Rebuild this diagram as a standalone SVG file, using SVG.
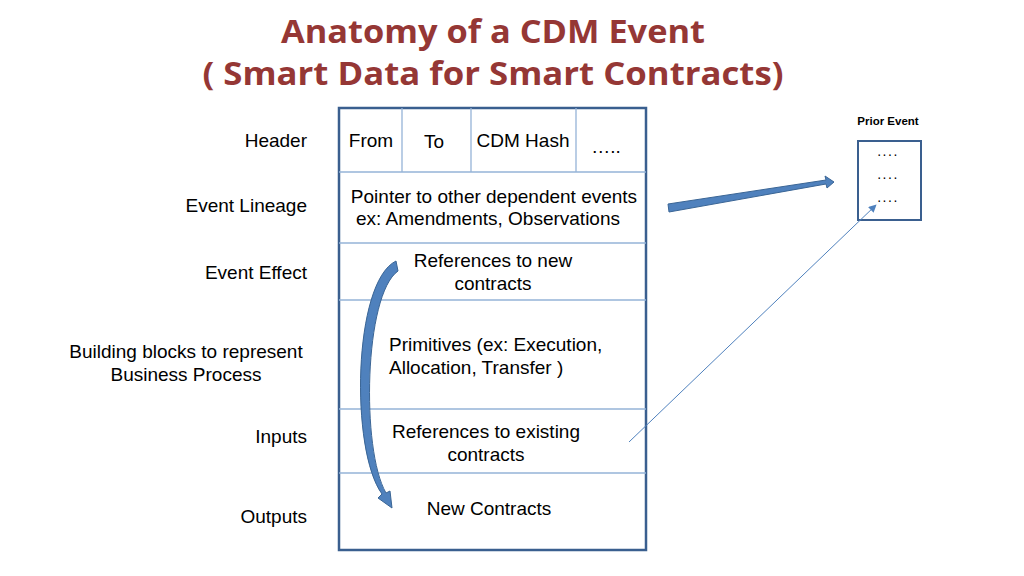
<svg xmlns="http://www.w3.org/2000/svg" width="1024" height="576" viewBox="0 0 1024 576">
<defs>
<style>
.t{font-family:"Liberation Sans",Arial,sans-serif;font-size:19px;fill:#000}
.title{font-family:"Open Sans",Lato,sans-serif;font-weight:bold;font-size:33px;fill:#953735}
.outer{fill:#fff;stroke:#3a5f8f;stroke-width:2.5}
.div{stroke:#95b3d7;stroke-width:1.3;fill:none}
.dots{font-family:"Liberation Sans",Arial,sans-serif;font-size:14px;fill:#000;letter-spacing:1.5px}
</style>
<marker id="ah" viewBox="0 0 10 10" refX="9" refY="5" markerWidth="8" markerHeight="8" orient="auto" markerUnits="userSpaceOnUse">
<path d="M0,0 L10,5 L0,10 Z" fill="#4f81bd"/>
</marker>
</defs>
<rect width="1024" height="576" fill="#fff"/>
<g id="title">
<text class="title" x="493" y="43" text-anchor="middle" textLength="424" lengthAdjust="spacingAndGlyphs">Anatomy of a CDM Event</text>
<text class="title" x="493" y="85" text-anchor="middle" textLength="581" lengthAdjust="spacingAndGlyphs">( Smart Data for Smart Contracts)</text>
</g>
<g id="labels">
<text class="t" x="307" y="147" text-anchor="end">Header</text>
<text class="t" x="307" y="212" text-anchor="end">Event Lineage</text>
<text class="t" x="307" y="279" text-anchor="end">Event Effect</text>
<text class="t" x="186" y="358" text-anchor="middle">Building blocks to represent</text>
<text class="t" x="186" y="381" text-anchor="middle">Business Process</text>
<text class="t" x="307" y="443" text-anchor="end">Inputs</text>
<text class="t" x="307" y="523" text-anchor="end">Outputs</text>
</g>
<g id="event">
<rect class="outer" x="339" y="108" width="307" height="442"/>
<line class="div" x1="339" y1="172" x2="646" y2="172"/>
<line class="div" x1="339" y1="243" x2="646" y2="243"/>
<line class="div" x1="339" y1="300" x2="646" y2="300"/>
<line class="div" x1="339" y1="409" x2="646" y2="409"/>
<line class="div" x1="339" y1="473" x2="646" y2="473"/>
<line class="div" x1="402" y1="108" x2="402" y2="172"/>
<line class="div" x1="471" y1="108" x2="471" y2="172"/>
<line class="div" x1="576" y1="108" x2="576" y2="172"/>
<text class="t" x="371" y="147" text-anchor="middle">From</text>
<text class="t" x="434" y="148" text-anchor="middle">To</text>
<text class="t" x="523" y="147" text-anchor="middle">CDM Hash</text>
<text class="t" x="606" y="153" text-anchor="middle">…..</text>
<text class="t" x="494" y="203" text-anchor="middle">Pointer to other dependent events</text>
<text class="t" x="488" y="225" text-anchor="middle">ex: Amendments, Observations</text>
<text class="t" x="493" y="267" text-anchor="middle">References to new</text>
<text class="t" x="493" y="290" text-anchor="middle">contracts</text>
<text class="t" x="389" y="351">Primitives (ex: Execution,</text>
<text class="t" x="389" y="374">Allocation, Transfer )</text>
<text class="t" x="486" y="438" text-anchor="middle">References to existing</text>
<text class="t" x="486" y="461" text-anchor="middle">contracts</text>
<text class="t" x="489" y="515" text-anchor="middle">New Contracts</text>
</g>
<g id="prior">
<text x="888" y="125" text-anchor="middle" font-family="Liberation Sans,Arial,sans-serif" font-weight="bold" font-size="11.5">Prior Event</text>
<rect x="858" y="141" width="63" height="79" fill="#fff" stroke="#3a5f8f" stroke-width="2"/>
<text class="dots" x="888" y="156" text-anchor="middle">....</text>
<text class="dots" x="888" y="179" text-anchor="middle">....</text>
<text class="dots" x="888" y="202" text-anchor="middle">....</text>
</g>
<g id="connectors">
<path d="M668,204 L826,180 L825,176 L834,182 L827,188 L826,184 L669,212 Z" fill="#4f81bd" stroke="#3a6595" stroke-width="1"/>
<path d="M396,261 C353,282 350,450 382,494 L378,498 L392,508 L390,491 L386,493 C361,450 364,295 398,271 Z" fill="#4f81bd" stroke="#3a6595" stroke-width="1"/>
<line x1="629" y1="442" x2="876" y2="205" stroke="#4f81bd" stroke-width="1" marker-end="url(#ah)"/>
</g>
</svg>
